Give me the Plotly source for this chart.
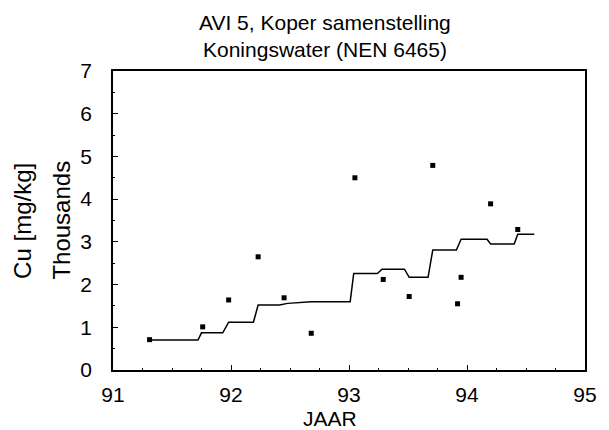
import plotly.graph_objects as go

# Individual copper measurements (year, thousands of mg/kg)
sample_year = [91.31, 91.76, 91.98, 92.23, 92.45, 92.68, 93.05, 93.29,
               93.51, 93.71, 93.92, 93.95, 94.20, 94.43]
sample_cu = [0.71, 1.01, 1.64, 2.65, 1.69, 0.86, 4.50, 2.12,
             1.72, 4.79, 1.55, 2.17, 3.89, 3.29]

# Running average curve
avg_year = [91.29, 91.72, 91.75, 91.93, 91.98, 92.19, 92.23, 92.41, 92.48,
            92.68, 93.01, 93.04, 93.24, 93.28, 93.47, 93.51, 93.67, 93.71,
            93.91, 93.95, 94.17, 94.20, 94.40, 94.43, 94.57]
avg_cu = [0.70, 0.70, 0.87, 0.87, 1.12, 1.12, 1.52, 1.52, 1.56,
          1.60, 1.60, 2.26, 2.26, 2.36, 2.36, 2.17, 2.17, 2.81,
          2.81, 3.06, 3.06, 2.95, 2.95, 3.18, 3.18]

x_ticks = [91, 92, 93, 94, 95]
y_ticks = [0, 1, 2, 3, 4, 5, 6, 7]

title_lines = ["AVI 5, Koper samenstelling", "Koningswater (NEN 6465)"]
y_title_lines = ["Cu [mg/kg]", "Thousands"]
x_title = "JAAR"

FONT = "Liberation Sans, Arial, sans-serif"

fig = go.Figure()
fig.add_trace(go.Scatter(
    x=avg_year, y=avg_cu, mode="lines",
    line=dict(color="black", width=1.5),
    showlegend=False, hoverinfo="skip",
))
fig.add_trace(go.Scatter(
    x=sample_year, y=sample_cu, mode="markers",
    marker=dict(symbol="square", size=5, color="black"),
    showlegend=False,
))

text_font = dict(family=FONT, size=21, color="black")

# Two-line chart title
fig.add_annotation(text=title_lines[0], xref="paper", yref="paper",
                   x=0.4493, y=1.1615, xanchor="center", yanchor="middle",
                   showarrow=False, font=text_font)
fig.add_annotation(text=title_lines[1], xref="paper", yref="paper",
                   x=0.4493, y=1.0712, xanchor="center", yanchor="middle",
                   showarrow=False, font=text_font)

# Vertical axis title on two rotated lines
fig.add_annotation(text=y_title_lines[0], xref="paper", yref="paper",
                   x=-0.192, y=0.50, xanchor="center", yanchor="middle",
                   textangle=-90, showarrow=False,
                   font=dict(family=FONT, size=24, color="black"))
fig.add_annotation(text=y_title_lines[1], xref="paper", yref="paper",
                   x=-0.110, y=0.50, xanchor="center", yanchor="middle",
                   textangle=-90, showarrow=False,
                   font=dict(family=FONT, size=24, color="black"))

# Horizontal axis title
fig.add_annotation(text=x_title, xref="paper", yref="paper",
                   x=0.4596, y=-0.162, xanchor="center", yanchor="middle",
                   showarrow=False, font=text_font)

fig.update_layout(
    width=609, height=430,
    paper_bgcolor="white", plot_bgcolor="white",
    margin=dict(l=113, r=13, t=71, b=60),
    font=dict(family=FONT, size=21, color="black"),
    xaxis=dict(
        range=[91, 95], tickvals=x_ticks, ticktext=[str(v) for v in x_ticks],
        showgrid=False, zeroline=False,
        showline=True, linecolor="black", linewidth=1.5, mirror=True,
        ticks="inside", ticklen=5, tickcolor="black",
        minor=dict(ticks="inside", ticklen=2, dtick=0.25, tickcolor="black"),
        tickfont=dict(size=21), ticklabelstandoff=5,
    ),
    yaxis=dict(
        range=[0, 7], tickvals=y_ticks, ticktext=[str(v) for v in y_ticks],
        showgrid=False, zeroline=False,
        showline=True, linecolor="black", linewidth=1.5, mirror=True,
        ticks="inside", ticklen=5, tickcolor="black",
        minor=dict(ticks="inside", ticklen=2, dtick=0.5, tickcolor="black"),
        tickfont=dict(size=21), ticklabelstandoff=15,
    ),
)

fig.write_html("out.html")
